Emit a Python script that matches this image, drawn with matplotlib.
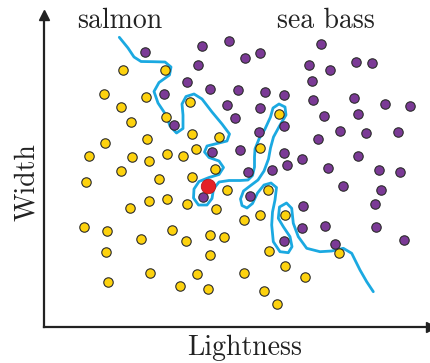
import matplotlib
matplotlib.use("Agg")
import matplotlib.pyplot as plt

# ---- data (Lightness, Width) ----
salmon_x = [79, 120.7, 60, 101.7, 76.7, 145.7, 87.3, 121.7, 148.3, 175.3, 61.3, 103.3, 45.3, 88.3,
            105, 123, 138.7, 151.7, 76.7, 170.7, 42.3, 115, 148.3, 182.7, 105.3, 122.7, 143.3, 172,
            85.7, 39.7, 62.7, 97, 127.7, 142, 166, 180, 62, 166.3, 105.7, 152.7, 63.7, 135.7, 163.7,
            235.3, 216.3, 224.3, 200.3, 216.3, 241.3, 225, 295, 240.7, 200.3, 261, 220, 232.7]
salmon_y = [257, 257, 233.3, 230.3, 220.3, 225, 205.3, 209.7, 193.3, 189.7, 184.3, 188, 171, 170,
            166.3, 173, 171, 178, 156.3, 157.7, 145.3, 147.7, 149.7, 136.7, 126.3, 127.7, 123.3, 117.7,
            119, 100.3, 95.7, 88, 97.3, 85.7, 92, 90, 74.7, 71.7, 54, 53, 44.7, 41, 38.3,
            213.3, 179.3, 137.3, 107.3, 112.3, 112.3, 76, 74, 61.3, 53.7, 49.7, 36, 23]

bass_x = [101.3, 158.3, 184.7, 154, 200.7, 216, 276.7, 264.7, 286.3, 312.3, 328, 268.3, 143, 166.3,
          194, 220.7, 240, 120, 182.7, 216, 268.7, 310, 341, 366, 191, 240.3, 280.3, 313.7, 130,
          215, 296.3, 322.3, 354.3, 274.3, 168, 196.3, 240, 258.3, 314, 204.3, 227.7, 242.7, 283.7,
          335.3, 356.3, 299, 336.7, 205.7, 258.7, 331, 258, 280.7, 331.7, 359.7, 240.3, 291.3, 159.3]
bass_y = [275.3, 281, 286.3, 262.3, 268.7, 274, 283, 262.3, 256.7, 265.3, 264, 246, 245, 238.3,
          236.7, 235, 231.7, 233.3, 222.3, 218.7, 226.7, 229.3, 222.7, 221, 208.7, 200.7, 210.7, 213.3, 201.7,
          195, 195.7, 193.7, 194.7, 188.3, 174.7, 176.7, 174, 168, 171.3, 154.7, 157, 162.3, 159,
          157.3, 154.7, 140.7, 136.7, 131, 121, 123.3, 98.7, 100.7, 100, 87.3, 86, 82.7, 130.3]

query_x = [163.7]
query_y = [141.3]

boundary_x = [75.3, 84, 90, 97, 109, 121, 127, 125.5, 115, 110, 114, 122, 126, 132.5, 139, 139, 138,
              142, 150, 158, 168, 178, 185.5, 183, 173, 163, 160.5, 165, 175, 179.5, 175, 165, 155,
              150, 149.5, 154.5, 163, 168, 169.5, 175, 185, 196, 204, 208.5, 210.5, 210.5, 211, 215,
              221, 226.5, 229, 235, 241, 242, 235.5, 229.5, 226.5, 224.5, 220, 214, 206, 199.5, 196.5,
              198, 203, 208.5, 213.5, 220, 227, 232.5, 231, 228.5, 227.7, 229.3, 236, 244.3, 248, 246,
              239.3, 234.3, 235.5, 242.5, 247.7, 249.3, 254.3, 262.7, 276, 287.7, 299.3, 307.7, 316,
              322.7, 329.3]
boundary_y = [289.7, 279, 270, 265.5, 265.3, 265, 260, 252, 244.5, 235.5, 224, 212, 201, 194, 198.5,
              212, 223, 230.5, 233, 228, 215, 203, 193, 186, 183.5, 181, 175, 169.5, 166, 159.5, 152.5,
              149.5, 145.5, 138, 129, 122, 122, 128.5, 138, 145, 146.5, 146.5, 147, 151.5, 160, 170,
              178, 188, 198, 210, 219, 223, 220, 212, 201, 190, 179, 168, 156, 147, 141, 136, 128,
              121.5, 119, 123.5, 134, 142, 144, 139.5, 127, 115, 102, 85.3, 75.3, 74.3, 80.3, 90.3,
              100.3, 108.7, 120, 124, 118.7, 103.7, 90.3, 78.7, 75.3, 76, 78.7, 73.7, 57, 45.3, 35.3]

# ---- figure ----
W, H = 431, 363
fig = plt.figure(figsize=(W / 100, H / 100), dpi=100)
ax = fig.add_axes([44 / W, (H - 327) / H, (431 - 44) / W, (327 - 15) / H])
ax.set_xlim(0, 387)
ax.set_ylim(0, 312)
ax.patch.set_alpha(0)

for s in ["top", "right"]:
    ax.spines[s].set_visible(False)
for s in ["left", "bottom"]:
    ax.spines[s].set_linewidth(1.6)
    ax.spines[s].set_color("#222222")
ax.set_xticks([])
ax.set_yticks([])

# arrow heads
ax.plot(1, 0, marker=">", ms=7, color="#222222", transform=ax.transAxes, clip_on=False)
ax.plot(0, 1, marker="^", ms=7, color="#222222", transform=ax.transAxes, clip_on=False)

ax.plot(boundary_x, boundary_y, color="#1BA9E1", lw=2.0, zorder=2,
        solid_capstyle="round", solid_joinstyle="round")
ax.scatter(salmon_x, salmon_y, s=46, c="#FDD20E", edgecolors="#2b2b2b", linewidths=0.8, zorder=3)
ax.scatter(bass_x, bass_y, s=46, c="#7B3A96", edgecolors="#2b2b2b", linewidths=0.8, zorder=3)
ax.scatter(query_x, query_y, s=110, c="#E42025", edgecolors="#B01015", linewidths=0.5, zorder=4)

font = dict(family="cmr10", size=20, color="#222222")
ax.text(76, 299, "salmon", ha="center", va="baseline", **font)
ax.text(282, 299, "sea bass", ha="center", va="baseline", **font)

ax.set_xlabel("Lightness", fontdict=font)
ax.xaxis.label.set_va("baseline")
ax.xaxis.set_label_coords(0.518, -0.0897)
ax.set_ylabel("Width", fontdict=font, rotation=90, rotation_mode="anchor", ha="center", va="baseline")
ax.yaxis.set_label_coords(-0.026, 0.466)

fig.savefig("out.png", dpi=100)
